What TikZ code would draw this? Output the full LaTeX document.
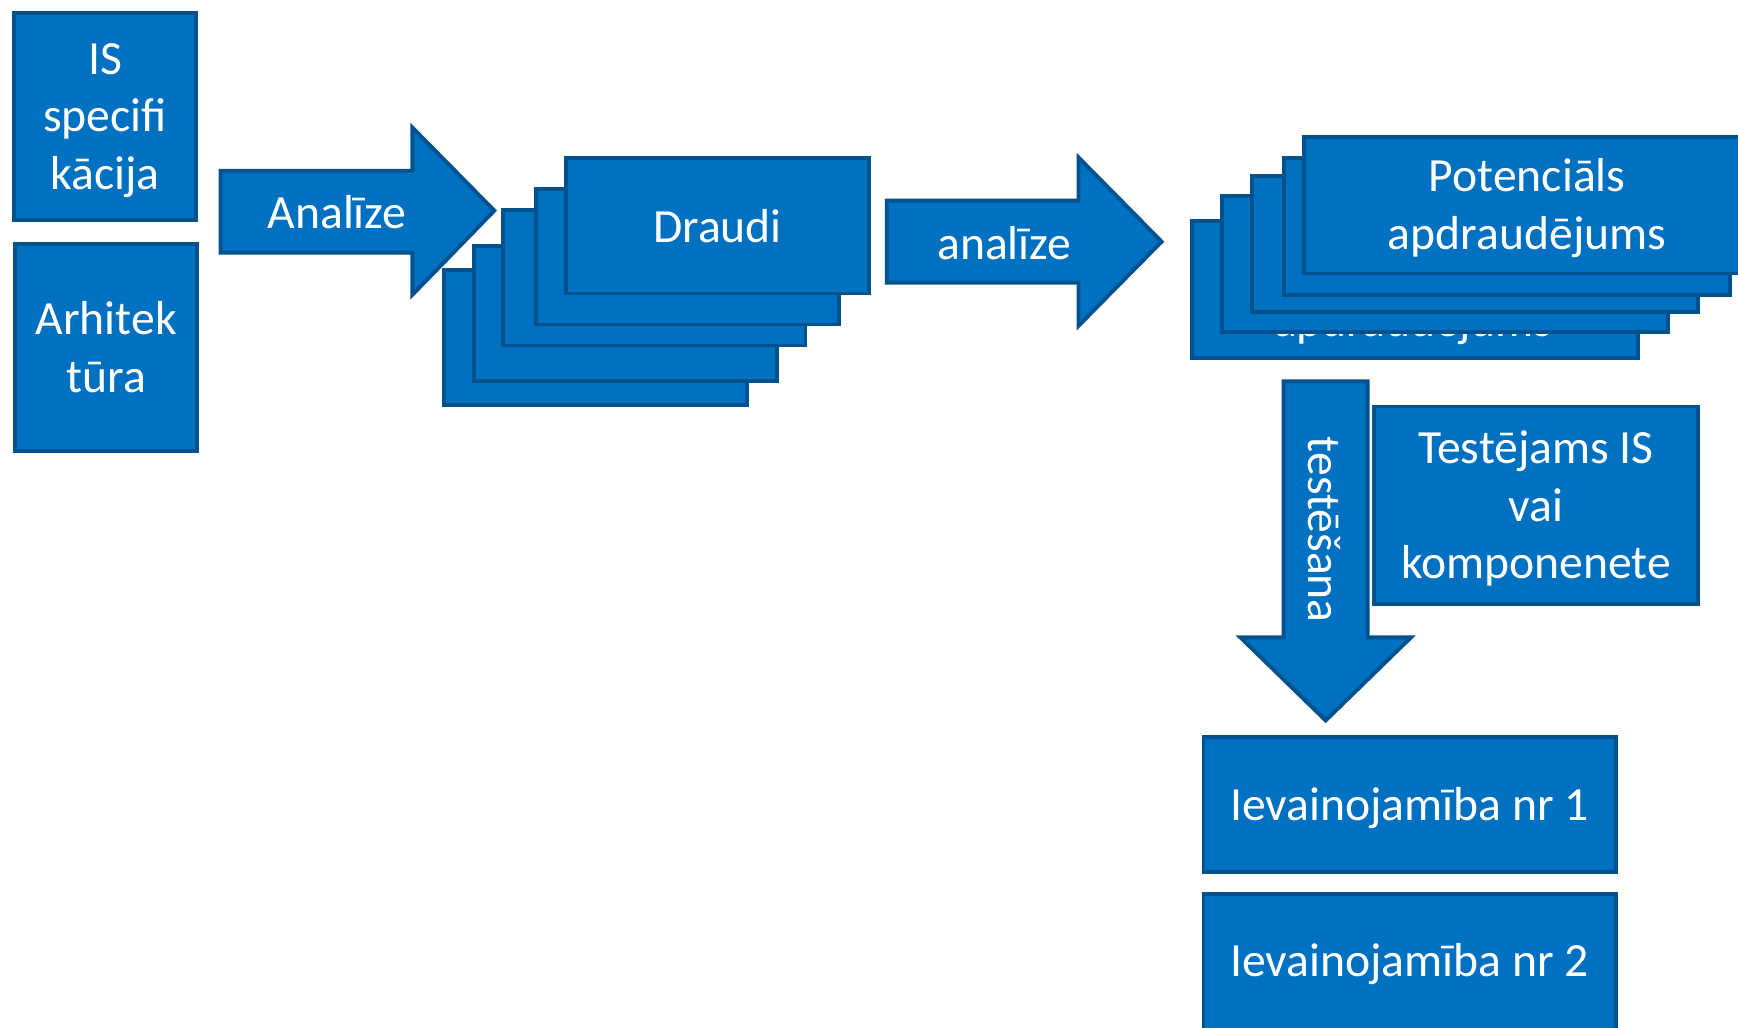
\documentclass[tikz,border=0pt]{standalone}
\usepackage{fontspec}
\setmainfont{Carlito}
\definecolor{bfill}{RGB}{0,112,192}
\definecolor{bline}{RGB}{3,82,142}
\begin{document}
\begin{tikzpicture}[x=1pt,y=-1pt,
  blk/.style={draw=bline,fill=bfill,line width=3.5pt,line join=miter},
  txt/.style={text=white,font=\fontsize{43}{52}\selectfont,align=center,inner sep=0pt},
  card/.style={blk,minimum width=273pt,minimum height=122pt,inner sep=0pt},
  pcard/.style={blk,minimum width=402pt,minimum height=123pt,inner sep=0pt}]
\useasboundingbox (0,0) rectangle (1568,927);

% left boxes
\node[blk,minimum width=164pt,minimum height=187pt,anchor=north west] (spec) at (11,10) {};
\node[txt] (specT) at ([yshift=-3.5pt]spec.center) {IS\\specifi\\kācija};
\node[blk,minimum width=164pt,minimum height=187pt,anchor=north west] (arch) at (12,218) {};
\node[txt] (archT) at (arch.center) {Arhitek\\tūra};

% arrow 1
\draw[blk] (199,154) -- (372,154) -- (372,115) -- (446,190) -- (372,266) -- (372,228) -- (199,228) -- cycle;
\node[txt] (an1) at (304,191) {Analīze};

% Draudi stack
\node[card,anchor=north west] (d5) at (399,242) {};
\node[card,anchor=north west] (d4) at (426,220) {};
\node[card,anchor=north west] (d3) at (452,188) {};
\node[card,anchor=north west] (d2) at (482,169) {};
\node[card,anchor=north west] (d1) at (509,141) {};
\node[txt] (d1T) at (d1.center) {Draudi};

% arrow 2
\draw[blk] (800,181) -- (973,181) -- (973,142) -- (1048,218) -- (973,294) -- (973,255) -- (800,255) -- cycle;
\node[txt] (an2) at (906,219) {analīze};

% Potenciāls stack
\node[pcard,anchor=north west] (p5) at (1074,198) {};
\node[txt,anchor=base] (p5T) at (1275,304) {apdraudējums};
\node[pcard,anchor=north west] (p4) at (1101,175) {};
\node[pcard,anchor=north west] (p3) at (1128,157) {};
\node[pcard,anchor=north west] (p2) at (1157,141) {};
\node[pcard,anchor=north west] (p1) at (1175,122) {};
\node[txt] (p1T) at ([yshift=-2.5pt]p1.center) {Potenciāls\\apdraudējums};

% down arrow
\draw[blk] (1158,344) -- (1234,344) -- (1234,575) -- (1273,575) -- (1196,650) -- (1119,575) -- (1158,575) -- cycle;
\node[txt,rotate=-90] (test) at (1195,478) {testēšana};

% target box
\node[blk,minimum width=292pt,minimum height=178pt,anchor=north west] (tgt) at (1238,365) {};
\node[txt] (tgtT) at ([yshift=-3pt]tgt.center) {Testējams IS\\vai\\komponenete};

% results
\node[blk,minimum width=372pt,minimum height=122pt,anchor=north west] (v1) at (1084,663) {};
\node[txt] (v1T) at ([yshift=-3pt]v1.center) {Ievainojamība nr 1};
\node[blk,minimum width=372pt,minimum height=122pt,anchor=north west] (v2) at (1084,805) {};
\node[txt] (v2T) at ([yshift=-2pt]v2.center) {Ievainojamība nr 2};
\end{tikzpicture}
\end{document}
